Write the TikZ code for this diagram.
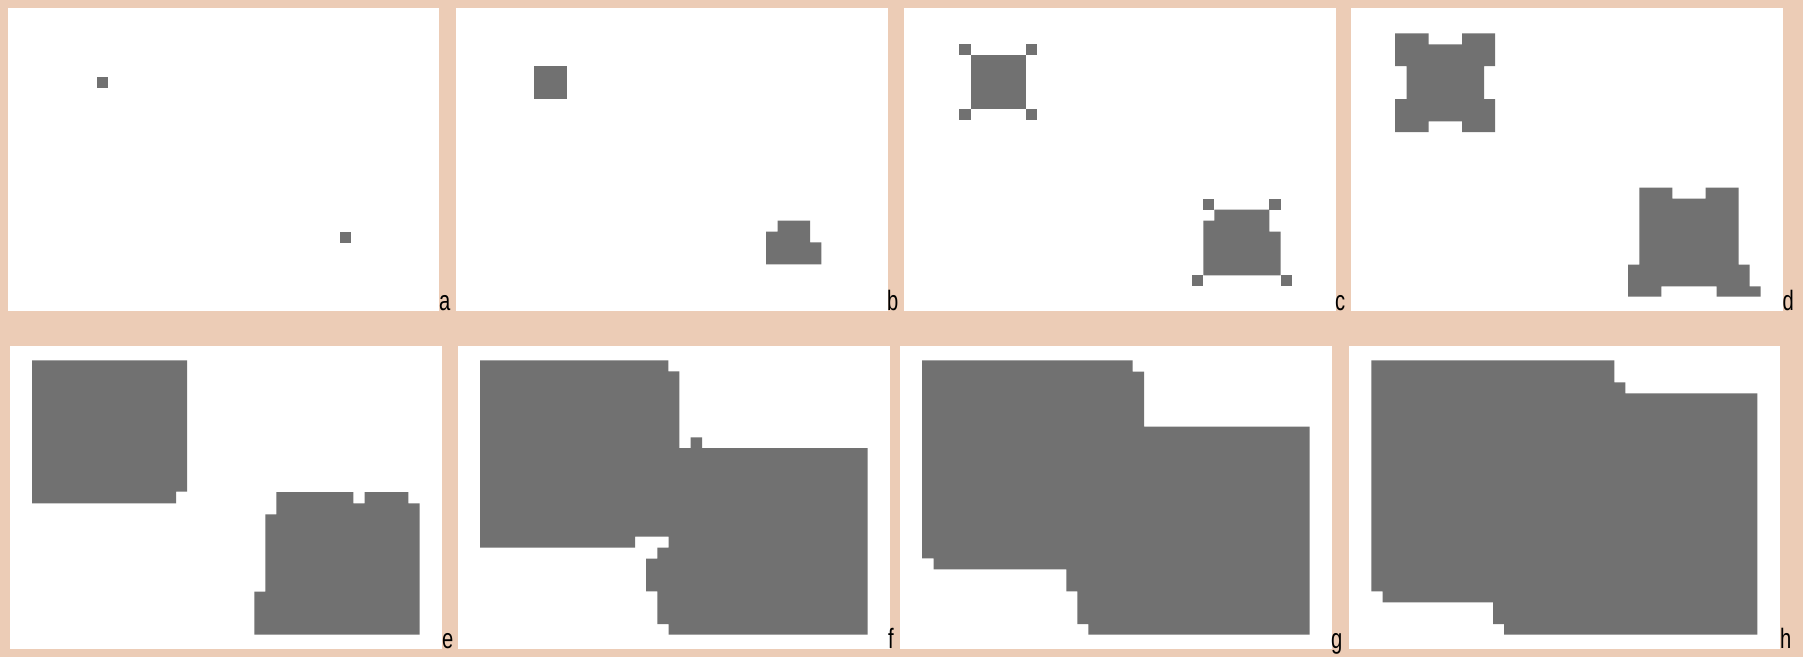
\documentclass[tikz,border=0pt]{standalone}
\usepackage{fontspec}
\setmainfont{Liberation Sans}
\definecolor{peach}{RGB}{236,204,182}
\definecolor{cellgray}{RGB}{113,113,113}
\tikzset{
  cell/.style={fill=cellgray},
  panel/.style={fill=white},
  lab/.style={anchor=base west, inner sep=0pt, font=\fontsize{28}{28}\selectfont},
}
\newcommand{\narrow}[1]{\scalebox{0.72}[1]{#1}}
\begin{document}
\begin{tikzpicture}[x=1pt,y=-1pt]
\fill[peach] (0,0) rectangle (1803,657);
\useasboundingbox (0,0) rectangle (1803,657);
% panels
\fill[panel] (8,8) rectangle (439,311);
\fill[panel] (456,8) rectangle (888,311);
\fill[panel] (904,8) rectangle (1336,311);
\fill[panel] (1351,8) rectangle (1783,311);
\fill[panel] (10,346) rectangle (442,648.5);
\fill[panel] (458,346) rectangle (890,648.5);
\fill[panel] (900,346) rectangle (1332,648.5);
\fill[panel] (1349,346) rectangle (1780,648.5);
% a
\fill[cell] (96.7,77.3) rectangle (107.7,88.3);
\fill[cell] (340,231.7) rectangle (351,242.7);
% b
\fill[cell] (534,66) rectangle (567,99);
\fill[cell] (777.7,220.7) -- (810,220.7) -- (810,242.3) -- (821.3,242.3) -- (821.3,264.3) -- (766,264.3) -- (766,231.7) -- (777.7,231.7) -- cycle;
% c
\fill[cell] (971,55.3) rectangle (1026.3,109.3);
\fill[cell] (959.3,44.3) rectangle (971,55.3);
\fill[cell] (1026.3,44.3) rectangle (1037.3,55.3);
\fill[cell] (959.3,109.3) rectangle (971,120.3);
\fill[cell] (1026.3,109.3) rectangle (1037.3,120.3);
\fill[cell] (1203.3,198.7) rectangle (1214.3,209.7);
\fill[cell] (1269.3,198.7) rectangle (1280.7,209.7);
\fill[cell] (1214.3,209.7) -- (1269.3,209.7) -- (1269.3,231.7) -- (1280.7,231.7) -- (1280.7,275.3) -- (1203.3,275.3) -- (1203.3,220.7) -- (1214.3,220.7) -- cycle;
\fill[cell] (1192.3,275.3) rectangle (1203.3,286.3);
\fill[cell] (1280.7,275.3) rectangle (1291.7,286.3);
% d
\fill[cell] (1395,33.3) -- (1428.7,33.3) -- (1428.7,44.3) -- (1462,44.3) -- (1462,33.3) -- (1495,33.3) -- (1495,66) -- (1484,66) -- (1484,99) -- (1495,99) -- (1495,132) -- (1462,132) -- (1462,121.3) -- (1428.7,121.3) -- (1428.7,132) -- (1395,132) -- (1395,99) -- (1406.7,99) -- (1406.7,66) -- (1395,66) -- cycle;
\fill[cell] (1639.3,187.7) -- (1672.3,187.7) -- (1672.3,198.7) -- (1705.7,198.7) -- (1705.7,187.7) -- (1738.7,187.7) -- (1738.7,264.7) -- (1749.7,264.7) -- (1749.7,286.3) -- (1760.7,286.3) -- (1760.7,296.7) -- (1716.7,296.7) -- (1716.7,286.3) -- (1661.3,286.3) -- (1661.3,296.7) -- (1628,296.7) -- (1628,264.7) -- (1639.3,264.7) -- cycle;
% e
\fill[cell] (32,360.3) -- (187,360.3) -- (187,491.7) -- (176,491.7) -- (176,503.3) -- (32,503.3) -- cycle;
\fill[cell] (276.3,492) -- (353.3,492) -- (353.3,503.3) -- (364.7,503.3) -- (364.7,492) -- (408.3,492) -- (408.3,503.3) -- (419.7,503.3) -- (419.7,634.7) -- (254.3,634.7) -- (254.3,591.7) -- (265.3,591.7) -- (265.3,514.3) -- (276.3,514.3) -- cycle;
% f
\fill[cell] (480,360.3) -- (668.3,360.3) -- (668.3,371.3) -- (679.3,371.3) -- (679.3,448) -- (690.7,448) -- (690.7,437.3) -- (702,437.3) -- (702,448) -- (867.7,448) -- (867.7,634.7) -- (668.7,634.7) -- (668.7,624) -- (657.3,624) -- (657.3,591.3) -- (646,591.3) -- (646,558.7) -- (657.3,558.7) -- (657.3,547.7) -- (668.7,547.7) -- (668.7,536.7) -- (635,536.7) -- (635,547.7) -- (480,547.7) -- cycle;
% g
\fill[cell] (922,360.3) -- (1132.7,360.3) -- (1132.7,371.7) -- (1144,371.7) -- (1144,426.7) -- (1309.7,426.7) -- (1309.7,634.7) -- (1088.3,634.7) -- (1088.3,624) -- (1077.3,624) -- (1077.3,591.3) -- (1066.3,591.3) -- (1066.3,569.3) -- (933.7,569.3) -- (933.7,558.3) -- (922,558.3) -- cycle;
% h
\fill[cell] (1371.3,360.3) -- (1614.3,360.3) -- (1614.3,382.3) -- (1625.3,382.3) -- (1625.3,393.3) -- (1757.3,393.3) -- (1757.3,634.7) -- (1504,634.7) -- (1504,624) -- (1493,624) -- (1493,602.3) -- (1382.7,602.3) -- (1382.7,591.3) -- (1371.3,591.3) -- cycle;
% labels
\node[lab] (la) at (439,310.5) {\narrow{a}};
\node[lab] (lb) at (887,310.5) {\narrow{b}};
\node[lab] (lc) at (1335,310.5) {\narrow{c}};
\node[lab] (ld) at (1782.5,310.5) {\narrow{d}};
\node[lab] (le) at (442,648.3) {\narrow{e}};
\node[lab] (lf) at (888,648.3) {\narrow{f}};
\node[lab] (lg) at (1331,648.3) {\narrow{g}};
\node[lab] (lh) at (1780,648.3) {\narrow{h}};
\end{tikzpicture}
\end{document}
